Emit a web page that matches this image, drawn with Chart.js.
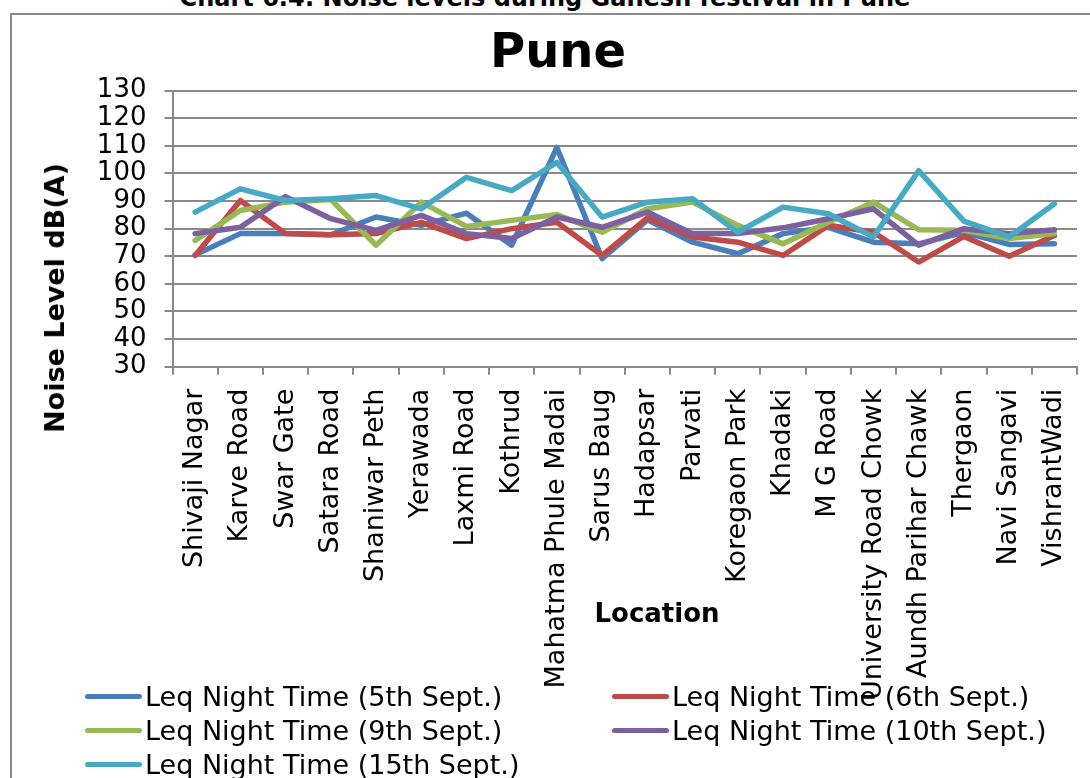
<!DOCTYPE html>
<html>
<head>
<meta charset="utf-8">
<script src="https://cdn.jsdelivr.net/npm/chart.js@4/dist/chart.umd.min.js"></script>
<style>
  html, body { margin: 0; padding: 0; width: 1090px; height: 778px; overflow: hidden; background: #fff; }
  #caption { position: absolute; left: 0; top: -14px; width: 1090px; text-align: center;
             font: bold 24px/24px "DejaVu Sans", Verdana, sans-serif; color: #000; white-space: nowrap; }
  #frame { position: absolute; left: 10px; top: 13px; width: 1110px; height: 820px;
           border: 2px solid #8a8a8a; box-sizing: border-box; }
  #chart { position: absolute; left: 0; top: 0; }
  #ytitle { position: absolute; left: 55px; top: 298px; transform: translate(-50%, -50%) rotate(-90deg);
            font: bold 27px/32px "DejaVu Sans", Verdana, sans-serif; color: #000; white-space: nowrap; }
  #xtitle { position: absolute; left: 657px; top: 613px; transform: translate(-50%, -50%);
            font: bold 26px/32px "DejaVu Sans", Verdana, sans-serif; color: #000; white-space: nowrap; }
  .lg { position: absolute; height: 32px; display: flex; align-items: center;
        font: 27px "DejaVu Sans", Verdana, sans-serif; color: #000; white-space: nowrap; }
  .sw { width: 57px; height: 4.5px; border-radius: 2.5px; margin-right: 3px; }
</style>
</head>
<body>
<div id="caption">Chart 6.4: Noise levels during Ganesh festival in Pune</div>
<div id="frame"></div>
<canvas id="chart" width="1090" height="778"></canvas>
<div id="ytitle">Noise Level dB(A)</div>
<div id="xtitle">Location</div>
<div id="legend"></div>
<script>
// ---- data ----
const categories = ['Shivaji Nagar', 'Karve Road', 'Swar Gate', 'Satara Road', 'Shaniwar Peth',
  'Yerawada', 'Laxmi Road', 'Kothrud', 'Mahatma Phule Madai', 'Sarus Baug', 'Hadapsar',
  'Parvati', 'Koregaon Park', 'Khadaki', 'M G Road', 'University Road Chowk',
  'Aundh Parihar Chawk', 'Thergaon', 'Navi Sangavi', 'VishrantWadi'];

const seriesNames = ['Leq Night Time (5th Sept.)', 'Leq Night Time (6th Sept.)',
  'Leq Night Time (9th Sept.)', 'Leq Night Time (10th Sept.)', 'Leq Night Time (15th Sept.)'];

const night5th  = [70.5, 78.2, 78.2, 77.8, 84.2, 81.2, 85.6, 74.0, 109.4, 69.1, 83.2, 75.1, 70.9, 78.2, 80.5, 75.1, 74.5, 78.7, 74.3, 74.5];
const night6th  = [70.3, 90.2, 78.2, 77.8, 78.2, 82.3, 76.4, 80.0, 82.3, 70.3, 83.9, 77.0, 75.1, 70.3, 81.2, 78.7, 67.9, 77.2, 70.0, 77.5];
const night9th  = [75.7, 86.6, 89.6, 90.6, 74.0, 89.6, 80.8, 83.0, 85.1, 78.7, 87.2, 89.6, 81.2, 74.5, 82.3, 89.6, 79.6, 79.4, 76.4, 78.2];
const night10th = [78.2, 80.5, 91.6, 83.6, 79.4, 84.8, 78.2, 76.4, 84.2, 80.5, 86.0, 78.2, 78.2, 80.3, 83.6, 87.2, 74.0, 80.0, 78.2, 79.6];
const night15th = [86.0, 94.4, 90.2, 90.8, 92.0, 87.2, 98.6, 93.8, 104.0, 84.2, 89.6, 90.8, 78.7, 87.8, 85.4, 77.0, 101.0, 82.7, 77.0, 89.0];

const yMin = 30, yMax = 130, yStep = 10;

const seriesValues = [night5th, night6th, night9th, night10th, night15th];
const seriesColors = ['#4A7EBB', '#BE4B48', '#98B954', '#7D60A0', '#46AAC5'];

// ---- chart ----
const FONT = "'DejaVu Sans', Verdana, sans-serif";
const AXIS = '#8a8a8a';

new Chart(document.getElementById('chart'), {
  type: 'line',
  data: {
    labels: categories,
    datasets: seriesValues.map((v, i) => ({
      label: seriesNames[i], data: v,
      borderColor: seriesColors[i], backgroundColor: seriesColors[i],
      borderWidth: 5.5, pointRadius: 0, pointHoverRadius: 0, tension: 0, fill: false,
      borderJoinStyle: 'round', borderCapStyle: 'round', order: seriesValues.length - i
    }))
  },
  options: {
    responsive: false, animation: false,
    layout: { padding: { top: 26, left: 39, right: 13, bottom: 0 } },
    plugins: {
      legend: { display: false },
      tooltip: { enabled: false },
      title: { display: true, text: 'Pune', color: '#000',
               font: { family: FONT, size: 48, weight: 'bold', lineHeight: 1.2 },
               padding: { top: 0, bottom: 7 } }
    },
    scales: {
      x: {
        type: 'category', offset: true,
        grid: { offset: true, drawOnChartArea: false, drawTicks: true, tickLength: 8, color: AXIS, lineWidth: 2 },
        border: { color: AXIS, width: 2 },
        ticks: { color: '#000', font: { family: FONT, size: 27 }, minRotation: 90, maxRotation: 90, autoSkip: false, padding: 14 },
        afterFit(s) { s.height = 411.3; s.paddingLeft = 0; s.paddingRight = 0; }
      },
      y: {
        min: yMin, max: yMax,
        ticks: { stepSize: yStep, autoSkip: false, color: '#000', font: { family: FONT, size: 26 }, padding: 18 },
        grid: { color: AXIS, lineWidth: 2, tickLength: 8 },
        border: { color: AXIS, width: 2 },
        afterFit(s) { s.width = 133.5; }
      }
    }
  }
});

// ---- legend (two columns, as in the reference) ----
const legend = document.getElementById('legend');
const colLeft = [85, 612];
const rowCenter = [696.7, 730.5, 764.3];
seriesNames.forEach((name, i) => {
  const item = document.createElement('div');
  item.className = 'lg';
  item.style.left = colLeft[i % 2] + 'px';
  item.style.top = (rowCenter[Math.floor(i / 2)] - 16) + 'px';
  const sw = document.createElement('div');
  sw.className = 'sw';
  sw.style.background = seriesColors[i];
  const tx = document.createElement('span');
  tx.textContent = name;
  item.appendChild(sw); item.appendChild(tx);
  legend.appendChild(item);
});
</script>
</body>
</html>
